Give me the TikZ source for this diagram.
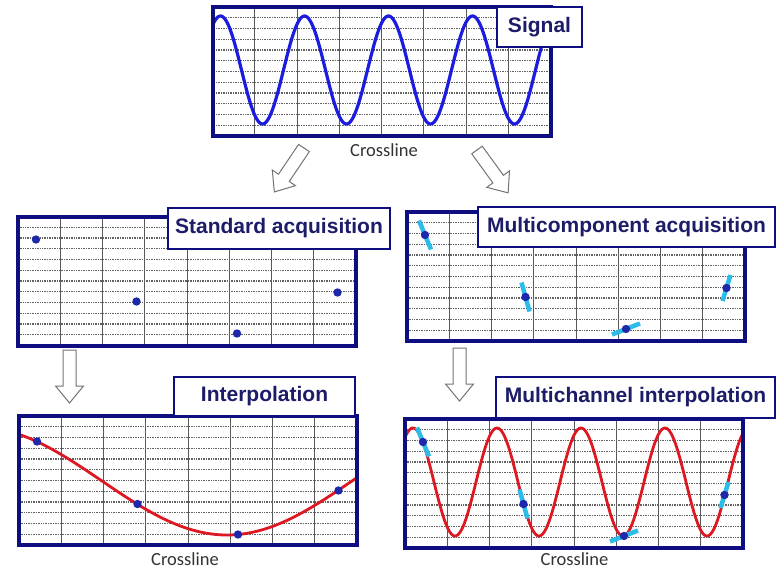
\documentclass[tikz,border=0pt]{standalone}
\usepackage{fontspec}
\setsansfont{Liberation Sans}
\newfontfamily\crossfont{Carlito}
\usetikzlibrary{calc,positioning}

\definecolor{framenavy}{RGB}{14,14,128}
\definecolor{tagnavy}{RGB}{28,28,104}
\definecolor{sigblue}{RGB}{28,28,225}
\definecolor{fitred}{RGB}{222,24,34}
\definecolor{barcyan}{RGB}{44,188,232}
\definecolor{dotblue}{RGB}{30,40,170}

\tikzset{
    panelframe/.style={draw=framenavy, line width=4pt, minimum width=338pt,
        minimum height=129pt, inner sep=0pt, outer sep=0pt, anchor=north west},
    gridcol/.style={draw=black!65, line width=1pt},
    gridrow/.style={draw=black!62, line width=1.2pt, dash pattern=on 1pt off 0.7pt},
    tagbox/.style={draw=framenavy, fill=white, line width=1.2pt, inner sep=0pt,
        font=\sffamily\bfseries\fontsize{21}{24}\selectfont, text=tagnavy},
    crossline/.style={font=\crossfont\fontsize{18.5}{20}\selectfont, text=black!80},
    hollowarrow/.style={draw=black!55, fill=white, line width=1pt, line join=miter},
    sigline/.style={draw=sigblue, line width=3.2pt},
    fitline/.style={draw=fitred, line width=2.8pt},
    slopebar/.style={draw=barcyan, line width=4.5pt},
    sample/.style={fill=dotblue},
    pics/blockarrow/.style={code={
        \draw[hollowarrow] (-6.5,0) -- (6.5,0) -- (6.5,36) -- (14,36) -- (0,53)
            -- (-14,36) -- (-6.5,36) -- cycle;}}
}

% grid of one record panel, local coordinates
\newcommand{\seisgrid}{%
    \foreach \c in {1,...,7} {\draw[gridcol] ({42.25*\c},0) -- ({42.25*\c},129);}
    \foreach \r in {1,...,11} {\draw[gridrow] (0,{10.75*\r}) -- (338,{10.75*\r});}
}

\begin{document}
\begin{tikzpicture}[x=1pt, y=-1pt]
    \useasboundingbox (0,0) rectangle (780,570);

    % signal
    \begin{scope}[shift={(212.5,7)}]
        \seisgrid
        \begin{scope}
            \clip (2,2) rectangle (336,127);
            \draw[sigline] plot[domain=0:338, samples=240, smooth]
                (\x, {63-54*cos((\x-8)/84*360)});
        \end{scope}
    \end{scope}
    \node[panelframe] (sig) at (212.5,7) {};
    \node[crossline] (sigx) at (384,150.5) {Crossline};

    \pic[rotate=-34] at (304,148) {blockarrow};
    \pic[rotate=36] at (477,150) {blockarrow};

    % standard acquisition
    \begin{scope}[shift={(18,216.5)}]
        \seisgrid
    \end{scope}
    \node[panelframe] (std) at (18,216.5) {};
    \begin{scope}[shift={(18,216.5)}]
        \foreach \px/\py in {18/23, 118.5/85, 219/117, 319.5/76}
            \fill[sample] (\px,\py) circle (4.2pt);
    \end{scope}

    % multicomponent acquisition
    \begin{scope}[shift={(407,212)}]
        \seisgrid
    \end{scope}
    \node[panelframe] (mc) at (407,212) {};
    \begin{scope}[shift={(407,212)}]
        \foreach \px/\py/\dx/\dy in {18/23/6/14.5, 118.5/85/4/14.5, 219/117/14/-5.5, 319.5/76/-4/13}
        {
            \draw[slopebar] (\px-\dx,\py-\dy) -- (\px+\dx,\py+\dy);
            \fill[sample] (\px,\py) circle (4.2pt);
        }
    \end{scope}

    \pic at (69.5,350) {blockarrow};
    \pic at (459.5,348) {blockarrow};

    % interpolation
    \begin{scope}[shift={(19,416)}]
        \seisgrid
        \begin{scope}
            \clip (2,2) rectangle (336,127);
            \draw[fitline] plot[domain=0:338, samples=120, smooth]
                (\x, {65+54*cos((\x-208)/500*360)});
        \end{scope}
    \end{scope}
    \node[panelframe] (interp) at (19,416) {};
    \begin{scope}[shift={(19,416)}]
        \foreach \px/\py in {18/25.5, 118.5/88, 219/118.5, 319.5/74.5}
            \fill[sample] (\px,\py) circle (4.2pt);
    \end{scope}
    \node[crossline] (interpx) at (185,559.5) {Crossline};

    % multichannel interpolation
    \begin{scope}[shift={(405,419)}]
        \seisgrid
        \begin{scope}
            \clip (2,2) rectangle (336,127);
            \draw[fitline] plot[domain=0:338, samples=240, smooth]
                (\x, {63-54*cos((\x-8)/84*360)});
        \end{scope}
    \end{scope}
    \node[panelframe] (mch) at (405,419) {};
    \begin{scope}[shift={(405,419)}]
        \foreach \px/\py/\dx/\dy in {18/23/6/14.5, 118.5/85/4/14.5, 219/117/14/-5.5, 319.5/76/-4/13}
        {
            \draw[slopebar] (\px-\dx,\py-\dy) -- (\px+\dx,\py+\dy);
            \fill[sample] (\px,\py) circle (4.2pt);
        }
    \end{scope}
    \node[crossline] (mchx) at (574.5,559) {Crossline};

    % panel titles
    \node[tagbox, minimum width=85pt, minimum height=40pt] (sigtag) at (539.5,27) {Signal};
    \node[tagbox, minimum width=222pt, minimum height=41pt] (stdtag) at (279,228.5) {Standard acquisition};
    \node[tagbox, minimum width=297pt, minimum height=40pt] (mctag) at (626.5,227) {Multicomponent acquisition};
    \node[tagbox, minimum width=181pt, minimum height=39pt] (interptag) at (264.5,396.5) {Interpolation};
    \node[tagbox, minimum width=279pt, minimum height=41pt] (mchtag) at (635.5,397.5) {Multichannel interpolation};
\end{tikzpicture}
\end{document}
